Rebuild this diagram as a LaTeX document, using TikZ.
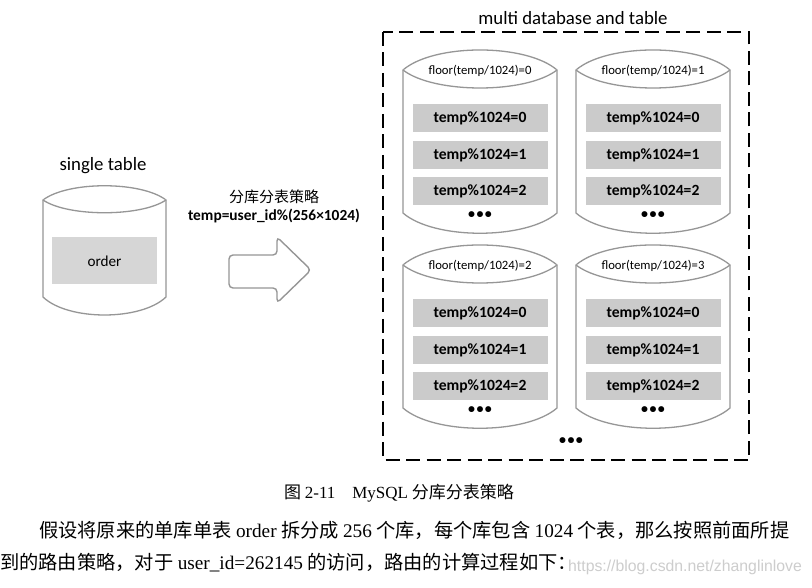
\documentclass[tikz,border=0pt]{standalone}
\usepackage{fontspec}
\setmainfont{Carlito}
\newfontfamily\cjk{Noto Sans CJK SC}
\newfontfamily\tnr{Liberation Serif}
\newfontfamily\wmf{Liberation Sans}
\definecolor{cylgray}{RGB}{150,150,150}
\definecolor{rowgray}{RGB}{203,203,203}
\definecolor{ordgray}{RGB}{214,214,214}
\definecolor{wmgray}{RGB}{205,205,205}
\tikzset{
  cylline/.style={draw=cylgray, line width=1.3pt, fill=white},
  rowbox/.style={fill=rowgray, minimum width=135pt, minimum height=28pt, inner sep=0pt,
    font=\bfseries\fontsize{15.6}{18}\selectfont},
  dblabel/.style={inner sep=0pt, font=\fontsize{12.7}{15}\selectfont},
  dotsnode/.style={inner sep=0pt, font=\bfseries\fontsize{14}{18}\selectfont},
  titletext/.style={inner sep=0pt, font=\fontsize{18.8}{22}\selectfont},
  bodytext/.style={inner sep=0pt, anchor=west, font=\fontsize{19.25}{23}\selectfont},
}
\begin{document}
\begin{tikzpicture}[x=1pt,y=-1pt]
\fill[white] (0,0) rectangle (812,588);
\useasboundingbox (0,0) rectangle (812,588);

% ---- single table ----
\node[titletext] (single) at (103,166) {single table};
\draw[cylline] (43,200) .. controls (68,181) and (141,181) .. (166,200)
  -- (166,297) .. controls (141,321) and (68,321) .. (43,297) -- cycle;
\draw[cylline] (43,200) .. controls (68,217) and (141,217) .. (166,200);
\node[fill=ordgray, minimum width=105pt, minimum height=47pt, inner sep=0pt,
  font=\fontsize{15.2}{18}\selectfont] (order) at (104.5,261) {order};

% ---- strategy text and arrow ----
\node[inner sep=0pt, font=\cjk\fontsize{15}{18}\selectfont] (strat) at (274,197) {分库分表策略};
\node[inner sep=0pt, font=\bfseries\fontsize{15.4}{18}\selectfont] (formula) at (274,216) {temp=user\_id\%(256×1024)};
\draw[draw=cylgray, line width=1.4pt, rounded corners=4pt, fill=white]
  (229,255) -- (277,255) -- (277,237) -- (311,270) -- (277,303) -- (277,288) -- (229,288) -- cycle;

% ---- multi database box ----
\node[titletext] (multi) at (573,18) {multi database and table};
\draw[line width=2.8pt, dash pattern=on 14pt off 6.5pt] (383,32) rectangle (749,460);

\foreach \i/\L/\Y in {0/403/70, 1/576/70, 2/403/265, 3/576/265}{
  \draw[cylline] (\L,\Y) .. controls ({\L+31},{\Y-26.7}) and ({\L+123},{\Y-26.7}) .. ({\L+154},\Y)
    -- ({\L+154},{\Y+143}) .. controls ({\L+123},{\Y+170}) and ({\L+31},{\Y+170}) .. (\L,{\Y+143}) -- cycle;
  \draw[cylline] (\L,\Y) .. controls ({\L+31},{\Y+24}) and ({\L+123},{\Y+24}) .. ({\L+154},\Y);
  \node[dblabel] (lab\i) at ({\L+77},{\Y+1}) {floor(temp/1024)=\i};
  \node[rowbox] (r\i a) at ({\L+77},{\Y+48}) {temp\%1024=0};
  \node[rowbox] (r\i b) at ({\L+77},{\Y+85}) {temp\%1024=1};
  \node[rowbox] (r\i c) at ({\L+77},{\Y+121}) {temp\%1024=2};
  \node[dotsnode] (d\i) at ({\L+77},{\Y+145}) {•\kern1.5pt•\kern1.5pt•};
}
\node[dotsnode] (dmore) at (571,441) {•\kern1.5pt•\kern1.5pt•};

% ---- caption and body text ----
\node[inner sep=0pt, font=\fontsize{17}{20}\selectfont] (caption) at (399,493)
  {{\cjk 图} {\tnr 2-11}\quad{\tnr MySQL} {\cjk 分库分表策略}};
\node[bodytext] (line1) at (39,530)
  {{\cjk 假设将原来的单库单表} {\tnr order} {\cjk 拆分成} {\tnr 256} {\cjk 个库，每个库包含} {\tnr 1024} {\cjk 个表，那么按照前面所提}};
\node[bodytext] (line2) at (0,563)
  {{\cjk 到的路由策略，对于} {\tnr user\_id=262145} {\cjk 的访问，路由的计算过程如下：}};
\node[inner sep=0pt, text=wmgray, font=\wmf\fontsize{15.8}{18}\selectfont] (wm) at (685,567)
  {https://blog.csdn.net/zhanglinlove};
\end{tikzpicture}
\end{document}
